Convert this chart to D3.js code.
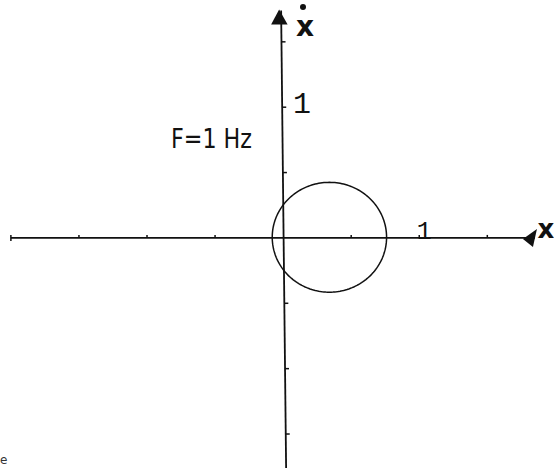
<!DOCTYPE html>
<html>
<head>
<meta charset="utf-8">
<script src="https://cdn.jsdelivr.net/npm/d3@7"></script>
<style>
  html, body { margin: 0; padding: 0; background: #fff; }
  svg { display: block; }
</style>
</head>
<body>
<svg id="chart" width="554" height="468"></svg>
<script>
// Phase portrait of a driven oscillator: velocity vs. position
const width = 554, height = 468;

const xDomain = [-2.08, 1.99];
const yDomain = [-1.76, 1.82];
const xTicks = [-2, -1.5, -1, -0.5, 0.5, 1, 1.5];
const yTicks = [1.5, 1, 0.5, -0.5, -1, -1.5];
const xTickLabels = [{ v: 1, t: "1" }];
const yTickLabels = [{ v: 1, t: "1" }];
const axisExtent = { xMin: -2, xMax: 1.85, yMin: -1.76, yMax: 1.74 };

// Limit cycle: center and radii in phase-space units
const orbitCenter = [0.34, 0.005];
const orbitRadius = [0.42, 0.42];
const orbitSteps = 200;
const annotation = "F=1 Hz";

const svg = d3.select("#chart");
const x = d3.scaleLinear().domain(xDomain).range([0, width]);
const y = d3.scaleLinear().domain(yDomain).range([height, 0]);

const ink = "#111";

// horizontal axis
svg.append("line")
  .attr("x1", x(axisExtent.xMin)).attr("x2", x(axisExtent.xMax))
  .attr("y1", y(0)).attr("y2", y(0))
  .attr("stroke", ink).attr("stroke-width", 1.6);

// vertical axis
svg.append("line")
  .attr("x1", x(0) - 2).attr("x2", x(0) + 3)
  .attr("y1", y(axisExtent.yMax)).attr("y2", y(axisExtent.yMin))
  .attr("stroke", ink).attr("stroke-width", 1.8);

// ticks along the horizontal axis
svg.selectAll(".xtick").data(xTicks).join("line")
  .attr("class", "xtick")
  .attr("x1", d => x(d)).attr("x2", d => x(d))
  .attr("y1", y(0) - 3)
  .attr("y2", d => d === axisExtent.xMin ? y(0) + 3 : y(0))
  .attr("stroke", ink).attr("stroke-width", 1.5);

// ticks along the vertical axis (right side)
svg.selectAll(".ytick").data(yTicks).join("line")
  .attr("class", "ytick")
  .attr("x1", d => x(0) + 0.5 - d * 1.4)
  .attr("x2", d => x(0) + 4.5 - d * 1.4)
  .attr("y1", d => y(d)).attr("y2", d => y(d))
  .attr("stroke", ink).attr("stroke-width", 1.5);

// tick labels
svg.selectAll(".xlab").data(xTickLabels).join("text")
  .attr("class", "xlab")
  .attr("x", d => x(d.v) + 5).attr("y", y(0) + 1)
  .attr("text-anchor", "middle")
  .attr("font-family", "Liberation Mono, monospace")
  .attr("font-size", 25).attr("fill", ink)
  .text(d => d.t);

svg.selectAll(".ylab").data(yTickLabels).join("text")
  .attr("class", "ylab")
  .attr("x", x(0) + 19).attr("y", d => y(d.v) + 6)
  .attr("text-anchor", "middle")
  .attr("font-family", "Liberation Mono, monospace")
  .attr("font-size", 30).attr("fill", ink)
  .text(d => d.t);

// arrowheads
const tipY = y(axisExtent.yMax) - 1;
svg.append("path")
  .attr("d", `M${x(0) - 4},${tipY} L${x(0) + 4.5},${tipY + 15} L${x(0) - 12},${tipY + 15} Z`)
  .attr("fill", ink);

const tipX = x(axisExtent.xMax) + 2;
svg.append("path")
  .attr("d", `M${tipX},${y(0) - 9} L${tipX - 4},${y(0) + 9} L${tipX - 14},${y(0) + 1} Z`)
  .attr("fill", ink);

// axis names
svg.append("text")
  .attr("x", 305).attr("y", 36)
  .attr("text-anchor", "middle")
  .attr("font-family", "DejaVu Sans, sans-serif")
  .attr("font-weight", "bold")
  .attr("font-size", 28).attr("fill", ink)
  .text("x");
svg.append("circle")
  .attr("cx", 303).attr("cy", 7).attr("r", 3).attr("fill", ink);

svg.append("text")
  .attr("x", 546).attr("y", 238)
  .attr("text-anchor", "middle")
  .attr("font-family", "DejaVu Sans, sans-serif")
  .attr("font-weight", "bold")
  .attr("font-size", 26).attr("fill", ink)
  .text("x");

// annotation
svg.append("text")
  .attr("x", 171).attr("y", 148)
  .attr("font-family", "DejaVu Sans, sans-serif")
  .attr("font-size", 27).attr("fill", ink)
  .attr("textLength", 81)
  .attr("lengthAdjust", "spacingAndGlyphs")
  .text(annotation);

// orbit
const pts = d3.range(orbitSteps + 1).map(i => {
  const a = (i / orbitSteps) * 2 * Math.PI;
  return [orbitCenter[0] + orbitRadius[0] * Math.cos(a),
          orbitCenter[1] + orbitRadius[1] * Math.sin(a)];
});
svg.append("path")
  .datum(pts)
  .attr("d", d3.line().x(d => x(d[0])).y(d => y(d[1])))
  .attr("fill", "none").attr("stroke", ink).attr("stroke-width", 1.5);

// stray margin glyph
svg.append("text")
  .attr("x", 0).attr("y", 464)
  .attr("font-family", "DejaVu Sans, sans-serif")
  .attr("font-size", 12).attr("fill", "#333")
  .text("e");
</script>
</body>
</html>
